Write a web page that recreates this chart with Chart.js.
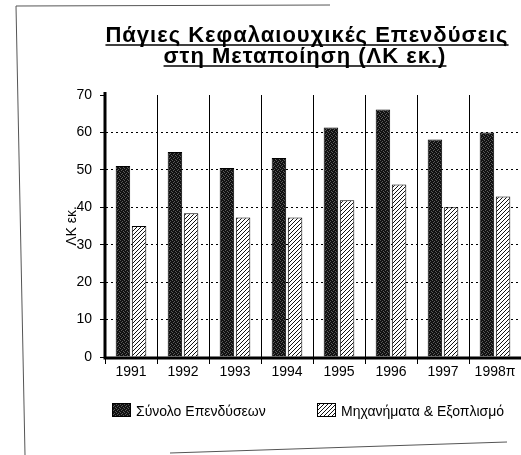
<!DOCTYPE html>
<html>
<head>
<meta charset="utf-8">
<script src="https://cdn.jsdelivr.net/npm/chart.js@4"></script>
<style>
  html, body { margin: 0; padding: 0; background: #fff; }
  #wrap { width: 521px; height: 455px; overflow: hidden; }
</style>
</head>
<body>
<div id="wrap"><canvas id="investChart" width="521" height="455"></canvas></div>
<script>
// data
var years = ['1991', '1992', '1993', '1994', '1995', '1996', '1997', '1998π'];
var totalInvest = [51, 54.8, 50.5, 53.2, 61.3, 66.1, 58.1, 60];
var machinery = [35, 38.4, 37.3, 37.3, 41.9, 46.1, 40, 42.9];
var seriesNames = ['Σύνολο Επενδύσεων', 'Μηχανήματα & Εξοπλισμό'];
var titleLines = ['Πάγιες Κεφαλαιουχικές Επενδύσεις', 'στη Μεταποίηση (ΛΚ εκ.)'];
var yTicks = [0, 10, 20, 30, 40, 50, 60, 70];

var FONT = '"Liberation Sans", Arial, sans-serif';

// dark stippled fill
function stipplePattern() {
    var c = document.createElement('canvas');
    c.width = 4; c.height = 4;
    var g = c.getContext('2d');
    g.fillStyle = '#111';
    g.fillRect(0, 0, 4, 4);
    g.fillStyle = '#5a5a5a';
    g.fillRect(0, 0, 1, 1);
    g.fillRect(2, 1, 1, 1);
    g.fillRect(1, 2, 1, 1);
    g.fillRect(3, 3, 1, 1);
    return g.createPattern(c, 'repeat');
}

// "////" hatching
function hatchPattern() {
    var c = document.createElement('canvas');
    c.width = 4; c.height = 4;
    var g = c.getContext('2d');
    g.fillStyle = '#fff';
    g.fillRect(0, 0, 4, 4);
    g.fillStyle = '#111';
    g.fillRect(3, 0, 1, 1);
    g.fillRect(2, 1, 1, 1);
    g.fillRect(1, 2, 1, 1);
    g.fillRect(0, 3, 1, 1);
    return g.createPattern(c, 'repeat');
}

var fills = [stipplePattern(), hatchPattern()];

var decorations = {
    id: 'decorations',
    afterDatasetsDraw: function (chart) {
        // heavy axis lines like the original
        var a = chart.chartArea, ctx = chart.ctx;
        ctx.save();
        ctx.strokeStyle = '#000';
        ctx.lineWidth = 3;
        ctx.beginPath();
        ctx.moveTo(a.left, a.top - 3);
        ctx.lineTo(a.left, a.bottom + 1);
        ctx.lineTo(a.right, a.bottom + 1);
        ctx.stroke();
        ctx.restore();
    },
    afterDraw: function (chart) {
        var ctx = chart.ctx;
        ctx.save();

        // scanned page frame
        ctx.strokeStyle = '#555';
        ctx.lineWidth = 1;
        ctx.beginPath();
        ctx.moveTo(16, 6); ctx.lineTo(330, 5);
        ctx.moveTo(16, 6); ctx.lineTo(25, 455);
        ctx.moveTo(170, 453); ctx.lineTo(507, 442);
        ctx.stroke();

        // underlined title
        ctx.fillStyle = '#000';
        ctx.strokeStyle = '#000';
        ctx.textAlign = 'center';
        ctx.textBaseline = 'alphabetic';
        ctx.font = 'bold 22px ' + FONT;
        ctx.letterSpacing = '1px';
        var centers = [307, 305];
        var baselines = [42, 63];
        titleLines.forEach(function (t, i) {
            ctx.fillText(t, centers[i], baselines[i]);
            var w = ctx.measureText(t).width;
            ctx.lineWidth = 1.5;
            ctx.beginPath();
            ctx.moveTo(centers[i] - w / 2, baselines[i] + 3);
            ctx.lineTo(centers[i] + w / 2, baselines[i] + 3);
            ctx.stroke();
        });
        ctx.letterSpacing = '0px';

        // legend
        ctx.font = '14px ' + FONT;
        ctx.textAlign = 'left';
        var boxX = [112, 317];
        chart.data.datasets.forEach(function (ds, i) {
            ctx.fillStyle = fills[i];
            ctx.fillRect(boxX[i], 403, 19, 14);
            ctx.lineWidth = 1;
            ctx.strokeStyle = '#000';
            ctx.strokeRect(boxX[i] + 0.5, 403.5, 18, 13);
            ctx.fillStyle = '#000';
            ctx.fillText(ds.label, boxX[i] + 24, 416);
        });
        ctx.restore();
    }
};

var ctx = document.getElementById('investChart').getContext('2d');
var investChart = new Chart(ctx, {
    type: 'bar',
    data: {
        labels: years,
        datasets: [{
            label: seriesNames[0],
            data: totalInvest,
            backgroundColor: fills[0],
            borderColor: '#000',
            borderWidth: 1
        }, {
            label: seriesNames[1],
            data: machinery,
            backgroundColor: fills[1],
            borderColor: '#000',
            borderWidth: 1
        }]
    },
    options: {
        responsive: false,
        animation: false,
        layout: { padding: { top: 95, left: 60, right: 0, bottom: 0 } },
        categoryPercentage: 0.62,
        barPercentage: 0.9,
        plugins: {
            legend: { display: false },
            tooltip: { enabled: false }
        },
        scales: {
            x: {
                grid: {
                    color: '#000',
                    lineWidth: 1,
                    tickLength: 7,
                    offset: true
                },
                border: { color: '#000', width: 1 },
                ticks: {
                    color: '#000',
                    font: { family: FONT, size: 14 },
                    padding: 0,
                    maxRotation: 0,
                    autoSkip: false
                },
                afterFit: function (scale) { scale.height = 98; }
            },
            y: {
                min: 0,
                max: 70,
                afterBuildTicks: function (scale) {
                    scale.ticks = yTicks.map(function (v) { return { value: v }; });
                },
                grid: {
                    color: function (c) {
                        return (c.tick && (c.tick.value === 0 || c.tick.value === 70)) ? 'rgba(0,0,0,0)' : '#000';
                    },
                    tickColor: '#000',
                    tickLength: 5,
                    lineWidth: 1
                },
                border: { color: '#000', width: 1, dash: [2, 3] },
                ticks: {
                    color: '#000',
                    font: { family: FONT, size: 14 },
                    padding: 8
                },
                title: {
                    display: true,
                    text: 'ΛΚ εκ.',
                    color: '#000',
                    font: { family: FONT, size: 14 },
                    padding: { top: 4, bottom: 4 }
                },
                afterFit: function (scale) { scale.width = 45; }
            }
        }
    },
    plugins: [decorations]
});
</script>
</body>
</html>
